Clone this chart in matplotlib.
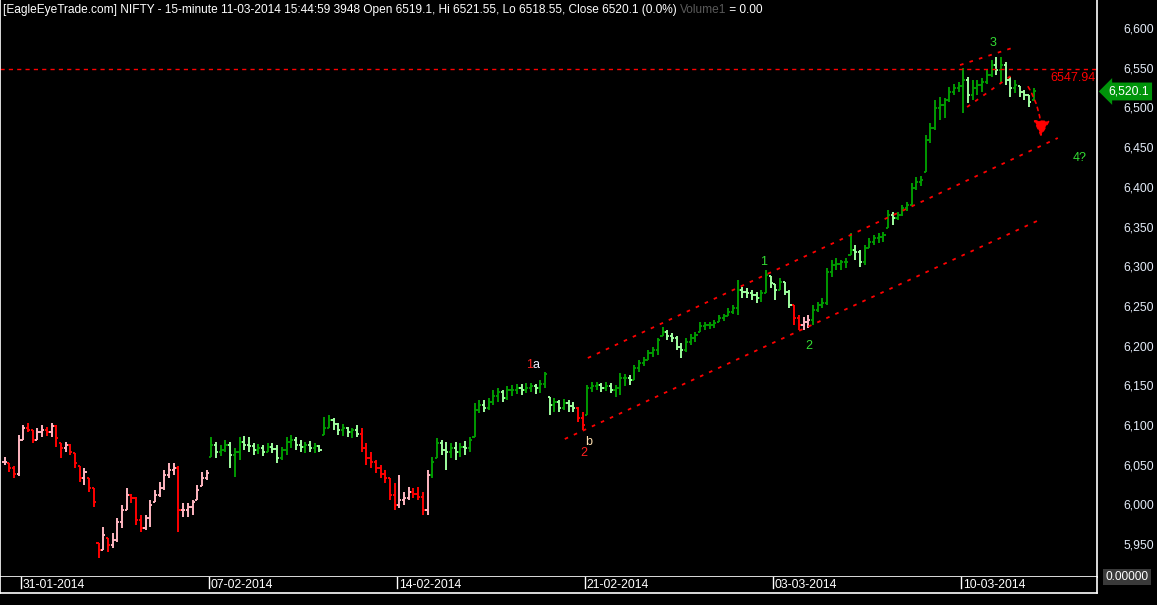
import numpy as np
import matplotlib.pyplot as plt
import matplotlib.transforms as mtransforms
from matplotlib.collections import LineCollection
from matplotlib.ticker import FuncFormatter

plt.rcParams['font.family'] = ['Liberation Sans', 'DejaVu Sans']

# NIFTY 15-minute bars, resampled to 8 bars a day (first 4 = end of 30-01-2014)
high = [6060, 6052, 6048, 6088,
        6100, 6103, 6094, 6096, 6100, 6098, 6103, 6100,
        6077, 6079, 6076, 6065, 6048, 6046, 6033, 6021,
        5951, 5972, 5958, 5964, 5983, 5999, 6021, 6013,
        6009, 5987, 5987, 6006, 6018, 6028, 6043, 6052,
        6052, 6048, 6002, 6002, 6006, 6025, 6041, 6043,
        6085, 6079, 6075, 6081, 6079, 6071, 6085, 6086,
        6085, 6077, 6076, 6075, 6077, 6077, 6075, 6072,
        6085, 6088, 6085, 6081, 6079, 6080, 6077, 6075,
        6110, 6113, 6109, 6103, 6101, 6098, 6096, 6100,
        6096, 6077, 6066, 6056, 6050, 6043, 6033, 6027,
        6037, 6016, 6022, 6021, 6022, 6016, 6043, 6060,
        6084, 6081, 6079, 6077, 6079, 6077, 6080, 6085,
        6128, 6132, 6132, 6134, 6144, 6147, 6144, 6149,
        6150, 6152, 6152, 6153, 6153, 6152, 6157, 6167,
        6135, 6134, 6132, 6133, 6132, 6129, 6123, 6116,
        6150, 6154, 6154, 6153, 6154, 6153, 6150, 6166,
        6164, 6163, 6176, 6182, 6186, 6195, 6198, 6210,
        6224, 6220, 6216, 6212, 6203, 6210, 6215, 6217,
        6230, 6230, 6230, 6232, 6239, 6240, 6247, 6251,
        6283, 6274, 6273, 6270, 6268, 6270, 6295, 6288,
        6278, 6285, 6280, 6270, 6251, 6239, 6236, 6239,
        6251, 6255, 6260, 6298, 6308, 6310, 6308, 6310,
        6342, 6327, 6320, 6327, 6336, 6339, 6342, 6343,
        6371, 6368, 6368, 6377, 6381, 6405, 6412, 6414,
        6465, 6480, 6509, 6513, 6512, 6526, 6530, 6532,
        6550, 6538, 6535, 6535, 6537, 6547, 6560, 6564,
        6564, 6557, 6538, 6535, 6527, 6522, 6516, 6525]

low = [6050, 6041, 6033, 6036,
       6081, 6091, 6077, 6081, 6085, 6086, 6085, 6072,
       6059, 6066, 6062, 6046, 6028, 6025, 6016, 5997,
       5933, 5943, 5940, 5945, 5953, 5970, 5993, 6002,
       5974, 5965, 5968, 5972, 6003, 6009, 6018, 6033,
       6037, 5965, 5984, 5984, 5987, 6006, 6023, 6031,
       6060, 6059, 6061, 6066, 6046, 6035, 6056, 6069,
       6066, 6062, 6064, 6061, 6066, 6065, 6052, 6056,
       6062, 6071, 6069, 6066, 6065, 6066, 6065, 6066,
       6088, 6096, 6094, 6088, 6086, 6085, 6084, 6085,
       6066, 6050, 6046, 6040, 6033, 6027, 6006, 5993,
       5996, 5999, 6006, 6008, 6006, 5987, 5987, 6033,
       6059, 6062, 6043, 6059, 6056, 6060, 6062, 6066,
       6085, 6115, 6116, 6119, 6125, 6129, 6129, 6132,
       6137, 6139, 6138, 6140, 6142, 6139, 6140, 6147,
       6113, 6116, 6116, 6119, 6116, 6116, 6104, 6094,
       6113, 6142, 6144, 6142, 6143, 6140, 6135, 6138,
       6149, 6150, 6157, 6167, 6174, 6182, 6186, 6188,
       6212, 6207, 6205, 6195, 6184, 6192, 6201, 6205,
       6217, 6220, 6221, 6222, 6230, 6231, 6237, 6240,
       6239, 6260, 6260, 6258, 6254, 6255, 6266, 6273,
       6258, 6270, 6264, 6247, 6226, 6220, 6220, 6222,
       6226, 6242, 6247, 6251, 6286, 6295, 6295, 6298,
       6314, 6308, 6299, 6302, 6323, 6327, 6329, 6331,
       6348, 6352, 6358, 6363, 6370, 6377, 6396, 6401,
       6419, 6455, 6472, 6484, 6487, 6507, 6516, 6519,
       6493, 6506, 6509, 6516, 6519, 6530, 6538, 6541,
       6532, 6528, 6513, 6518, 6513, 6509, 6501, 6509]

close = [6054, 6046, 6038, 6081,
         6096, 6094, 6081, 6091, 6094, 6091, 6099, 6084,
         6071, 6075, 6066, 6052, 6033, 6041, 6021, 6003,
         5943, 5962, 5949, 5955, 5978, 5993, 6012, 6008,
         5980, 5970, 5983, 5999, 6012, 6021, 6037, 6043,
         6046, 5993, 5993, 5997, 6003, 6018, 6033, 6040,
         6075, 6066, 6069, 6075, 6062, 6066, 6079, 6075,
         6074, 6069, 6071, 6066, 6072, 6070, 6059, 6069,
         6079, 6081, 6075, 6072, 6075, 6071, 6074, 6069,
         6096, 6106, 6101, 6094, 6096, 6091, 6094, 6089,
         6071, 6059, 6054, 6046, 6038, 6033, 6012, 5999,
         6006, 6008, 6016, 6013, 6009, 5993, 6037, 6054,
         6077, 6069, 6066, 6071, 6066, 6072, 6071, 6081,
         6119, 6125, 6122, 6129, 6137, 6142, 6134, 6144,
         6144, 6147, 6144, 6147, 6149, 6147, 6152, 6164,
         6125, 6129, 6122, 6128, 6124, 6122, 6109, 6100,
         6147, 6149, 6150, 6147, 6149, 6144, 6147, 6159,
         6159, 6157, 6172, 6178, 6182, 6191, 6195, 6207,
         6217, 6212, 6210, 6198, 6195, 6205, 6210, 6213,
         6225, 6226, 6226, 6229, 6235, 6237, 6242, 6247,
         6270, 6268, 6266, 6264, 6260, 6266, 6289, 6279,
         6270, 6280, 6268, 6251, 6235, 6226, 6230, 6232,
         6245, 6251, 6254, 6293, 6302, 6303, 6305, 6305,
         6320, 6318, 6305, 6323, 6331, 6336, 6337, 6339,
         6365, 6361, 6365, 6373, 6377, 6399, 6406, 6409,
         6459, 6474, 6499, 6503, 6509, 6519, 6525, 6527,
         6535, 6516, 6525, 6528, 6532, 6541, 6553, 6547,
         6553, 6535, 6525, 6528, 6519, 6516, 6507, 6520.1]

# bar index ranges drawn in the bearish (red / pink) colours
bear_spans = [(0, 43), (76, 90), (122, 123), (168, 171)]

bars_per_day = 8
first_day_bar = 4
date_labels = ['31-01-2014', '07-02-2014', '14-02-2014', '21-02-2014', '03-03-2014', '10-03-2014']
date_days = [0, 5, 10, 15, 20, 25]

y_ticks = list(range(5950, 6601, 50))
last_close = 6520.1
resistance = 6547.94

# elliott channel lines (bar index, price)
upper_x = [124.1, 224.1]
upper_y = [6184.4, 6461.5]
lower_x = [119.2, 219.7]
lower_y = [6082.4, 6357.0]
top_up_x = [203.3, 214.4]
top_up_y = [6553.4, 6574.9]
top_lo_x = [204.8, 215.0]
top_lo_y = [6500.5, 6543.4]

W, H = 1157, 605
fig = plt.figure(figsize=(W / 100, H / 100), dpi=100, facecolor='black')
ax = fig.add_axes([0, 28 / H, 1097 / W, 577 / H], facecolor='black')

n = len(close)
high = np.array(high, float)
low = np.array(low, float)
close = np.array(close, float)
opens = np.clip(np.r_[close[0], close[:-1]], low, high)

bear = np.zeros(n, bool)
for a, b in bear_spans:
    bear[a:b + 1] = True
up = close >= opens
cols = np.where(bear, np.where(up, '#ffb6c1', '#ff0000'),
                np.where(up, '#009a00', '#a0ffa0'))

tw = 0.45
segs = []
seg_cols = []
for i in range(n):
    segs += [[(i, low[i]), (i, high[i])],
             [(i - tw, opens[i]), (i, opens[i])],
             [(i, close[i]), (i + tw, close[i])]]
    seg_cols += [cols[i]] * 3
ax.add_collection(LineCollection(segs, colors=seg_cols, linewidths=1.4))

ax.set_xlim(-0.97, 232.44)
ax.set_ylim(5908.6, 6635.3)

blend = mtransforms.blended_transform_factory(ax.transAxes, ax.transData)

# resistance line and label
ax.axhline(resistance, color='#ff0000', lw=1, ls=(0, (3, 3)))
ax.text(0.999, resistance - 3.5, f'{resistance:.2f}', transform=blend,
        ha='right', va='top', color='#ff0000', fontsize=9)

dots = (0, (2, 3.5))
for xs, ys in [(upper_x, upper_y), (lower_x, lower_y), (top_up_x, top_up_y), (top_lo_x, top_lo_y)]:
    ax.plot(xs, ys, color='#ff0000', lw=1.3, ls=dots)

ax.annotate('', xy=(220.5, 6462.8), xytext=(217.8, 6526),
            arrowprops=dict(arrowstyle='-|>,head_length=1.0,head_width=0.5', color='#ff0000',
                            lw=1.2, ls=(0, (2, 2.5)), connectionstyle='arc3,rad=-0.15',
                            shrinkA=0, shrinkB=0))

# wave labels
t1 = ax.text(111.6, 6175.6, '1', color='#ff2020', fontsize=9, ha='center', va='center')
ax.annotate('a', xy=(1, 0.5), xycoords=t1, va='center', color='#f0f0ff', fontsize=9)
ax.text(124.3, 6078.7, 'b', color='#ffe0b0', fontsize=9, ha='center', va='center')
ax.text(123.3, 6065.0, '2', color='#ff2020', fontsize=9, ha='center', va='center')
ax.text(161.4, 6305.0, '1', color='#33dd33', fontsize=9, ha='center', va='center')
ax.text(171.2, 6199.6, '2', color='#33dd33', fontsize=9, ha='center', va='center')
ax.text(210.3, 6581.0, '3', color='#33dd33', fontsize=9, ha='center', va='center')
ax.text(228.8, 6436.3, '4?', color='#33dd33', fontsize=9, ha='center', va='center')

# price axis on the right
ax.yaxis.tick_right()
ax.set_yticks(y_ticks)
ax.yaxis.set_major_formatter(FuncFormatter(lambda v, p: f'{v:,.0f}'))
ax.tick_params(axis='y', length=0, pad=19, labelcolor='#e4ecf8', labelsize=8.8)
ax.set_xticks([])
for s in ['left', 'right', 'bottom']:
    ax.spines[s].set_color('white')
    ax.spines[s].set_linewidth(1.2)
ax.spines['top'].set_visible(False)

ax.text(1.0105, last_close, f'{last_close:,.1f}', transform=blend, ha='left', va='center',
        color='white', fontsize=8.8, clip_on=False,
        bbox=dict(boxstyle='larrow,pad=0.24', fc='#00940a', ec='none'))
ax.text(1.0075, 0.0, '0.00000', transform=ax.transAxes, ha='left', va='center',
        color='white', fontsize=8.6, clip_on=False,
        bbox=dict(boxstyle='square,pad=0.2', fc='#3a3a3a', ec='none'))

# date strip
dax = fig.add_axes([0, 12 / H, 1097 / W, 16 / H], facecolor='black')
dax.set_xlim(ax.get_xlim())
dax.set_ylim(0, 1)
dax.set_xticks([])
dax.set_yticks([])
for s in dax.spines.values():
    s.set_color('white')
    s.set_linewidth(1.2)
dax.spines['top'].set_visible(False)
for d, lab in zip(date_days, date_labels):
    xp = first_day_bar + bars_per_day * d - 0.5
    dax.plot([xp, xp], [0.3, 1], color='white', lw=1)
    dax.text(xp + 0.4, 0.5, lab, color='white', fontsize=8.8, ha='left', va='center')

# header
t = fig.text(3 / W, 1 - 10 / H, '[EagleEyeTrade.com] NIFTY - 15-minute 11-03-2014 15:44:59 3948 Open 6519.1, '
             'Hi 6521.55, Lo 6518.55, Close 6520.1 (0.0%) ', color='white', fontsize=8.6, va='center')
a2 = ax.annotate('Volume1', xy=(1, 0.5), xycoords=t, va='center', color='#5a5a5a', fontsize=8.6)
ax.annotate(' = 0.00', xy=(1, 0.5), xycoords=a2, va='center', color='white', fontsize=8.6)

fig.savefig('out.png', dpi=100, facecolor='black')
